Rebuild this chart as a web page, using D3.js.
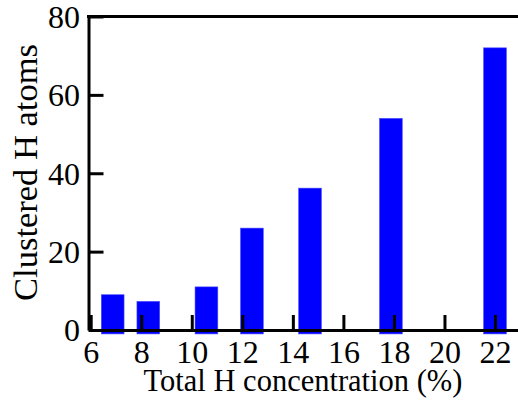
<!DOCTYPE html>
<html>
<head>
<meta charset="utf-8">
<script src="https://cdn.jsdelivr.net/npm/d3@7"></script>
<style>
  html, body { margin: 0; padding: 0; background: #fff; }
  svg { display: block; }
  #chart text { font-family: "Liberation Serif", "Times New Roman", Times, serif; }
</style>
</head>
<body>
<svg id="chart" width="518" height="403"></svg>
<script>
// Clustered hydrogen atoms versus total H concentration
const concentration = [6.87, 8.28, 10.58, 12.38, 14.68, 17.88, 22.0];
const clusteredH = [9, 7.3, 11, 26, 36.2, 54, 72];
const xTicks = [6, 8, 10, 12, 14, 16, 18, 20, 22];
const yTicks = [0, 20, 40, 60, 80];
const xTitle = "Total H concentration (%)";
const yTitle = "Clustered H atoms";

(function draw() {
  const svg = d3.select("#chart");

  const plotLeft = 88.5, plotRight = 518, plotTop = 16.5, plotBottom = 330;
  const x = d3.scaleLinear().domain([5.913, 22.91]).range([plotLeft, plotRight]);
  const y = d3.scaleLinear().domain([0, 80]).range([plotBottom, plotTop]);
  const barWidth = 0.9;   // in concentration units
  const barBase = -1;     // bars start slightly below the axis

  // bars
  svg.append("g")
    .selectAll("rect")
    .data(concentration.map((c, i) => ({ c, v: clusteredH[i] })))
    .join("rect")
    .attr("x", d => x(d.c - barWidth / 2))
    .attr("width", d => x(d.c + barWidth / 2) - x(d.c - barWidth / 2))
    .attr("y", d => y(d.v))
    .attr("height", d => y(barBase) - y(d.v))
    .attr("fill", "#0000ff")
    .attr("stroke", "#4a4aff")
    .attr("stroke-width", 0.6);

  // x axis with inward ticks
  const gx = svg.append("g")
    .attr("transform", `translate(0,${plotBottom})`)
    .call(d3.axisBottom(x).tickValues(xTicks).tickSizeInner(-15).tickSizeOuter(0)
      .tickPadding(10.3).tickFormat(d3.format("d")));

  // y axis with inward ticks
  const gy = svg.append("g")
    .attr("transform", `translate(${plotLeft},0)`)
    .call(d3.axisLeft(y).tickValues(yTicks).tickSizeInner(-15).tickSizeOuter(0)
      .tickPadding(8.5).tickFormat(d3.format("d")));

  [gx, gy].forEach(g => {
    g.attr("font-family", null).attr("font-size", null);
    g.select(".domain").attr("stroke", "#000").attr("stroke-width", 3);
    g.selectAll(".tick line").attr("stroke", "#000").attr("stroke-width", 3);
    g.selectAll(".tick text")
      .attr("fill", "#000")
      .attr("font-size", 32);
  });
  gy.selectAll(".tick text").attr("dy", "0.34em");

  // top frame line
  svg.append("line")
    .attr("x1", plotLeft - 1.5).attr("x2", plotRight)
    .attr("y1", y(80)).attr("y2", y(80))
    .attr("stroke", "#000").attr("stroke-width", 3);

  // axis titles
  svg.append("text")
    .attr("x", 303).attr("y", 391)
    .attr("text-anchor", "middle")
    .attr("font-size", 30.5)
    .text(xTitle);

  svg.append("text")
    .attr("transform", "translate(37,172.5) rotate(-90)")
    .attr("text-anchor", "middle")
    .attr("font-size", 34.5)
    .text(yTitle);
})();
</script>
</body>
</html>
